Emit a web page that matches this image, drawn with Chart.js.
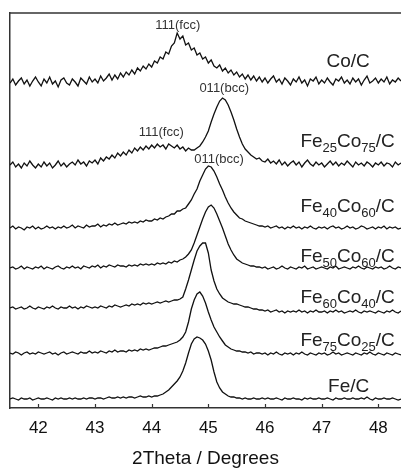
<!DOCTYPE html>
<html>
<head>
<meta charset="utf-8">
<script src="https://cdn.jsdelivr.net/npm/chart.js@4.4.1/dist/chart.umd.min.js"></script>
<style>
  html, body { margin: 0; padding: 0; background: #fff; }
  #wrap { position: relative; width: 401px; height: 468px; }
</style>
</head>
<body>
<div id="wrap"><canvas id="xrd"></canvas></div>
<script>
// 2Theta grid (degrees)
const twoTheta = [
  41.5,41.55,41.6,41.65,41.7,41.75,41.8,41.85,41.9,41.95,
  42,42.05,42.1,42.15,42.2,42.25,42.3,42.35,42.4,42.45,
  42.5,42.55,42.6,42.65,42.7,42.75,42.8,42.85,42.9,42.95,
  43,43.05,43.1,43.15,43.2,43.25,43.3,43.35,43.4,43.45,
  43.5,43.55,43.6,43.65,43.7,43.75,43.8,43.85,43.9,43.95,
  44,44.05,44.1,44.15,44.2,44.25,44.3,44.35,44.4,44.45,
  44.5,44.55,44.6,44.65,44.7,44.75,44.8,44.85,44.9,44.95,
  45,45.05,45.1,45.15,45.2,45.25,45.3,45.35,45.4,45.45,
  45.5,45.55,45.6,45.65,45.7,45.75,45.8,45.85,45.9,45.95,
  46,46.05,46.1,46.15,46.2,46.25,46.3,46.35,46.4,46.45,
  46.5,46.55,46.6,46.65,46.7,46.75,46.8,46.85,46.9,46.95,
  47,47.05,47.1,47.15,47.2,47.25,47.3,47.35,47.4,47.45,
  47.5,47.55,47.6,47.65,47.7,47.75,47.8,47.85,47.9,47.95,
  48,48.05,48.1,48.15,48.2,48.25,48.3,48.35,48.4
];

// stacked intensities (a.u., offset per sample)
const coC = [
  325,329,323,327,330,324,328,322,327,331,
  326,322,329,325,331,324,327,321,328,330,
  325,323,329,326,322,330,327,324,331,326,
  329,325,332,327,330,334,328,333,329,335,
  331,336,333,338,334,340,337,342,339,344,
  341,347,345,351,349,356,354,362,365,375,
  369,372,363,365,358,360,353,355,349,351,
  345,348,342,340,343,337,340,335,338,333,
  336,331,334,329,333,328,332,327,331,326,
  330,325,329,332,326,329,324,330,327,323,
  329,326,331,325,328,322,329,327,331,324,
  328,325,330,326,323,329,327,331,325,328,
  324,330,326,329,323,328,332,325,327,330,
  325,329,326,331,324,328,326,330,327
];
const fe25co75 = [
  243,246,241,244,240,245,242,247,243,240,
  244,241,246,242,245,240,243,247,242,245,
  241,244,246,243,248,244,246,242,247,245,
  248,244,250,247,251,249,253,250,255,252,
  256,253,258,255,260,257,261,258,262,259,
  263,260,264,261,263,259,264,262,260,263,
  259,261,257,260,258,258,260,262,266,271,
  277,286,294,301,307,310,308,303,296,288,
  279,271,264,259,256,253,251,249,250,247,
  246,249,245,247,244,248,243,246,242,245,
  247,243,246,241,245,248,244,242,246,243,
  245,241,244,247,243,246,242,245,243,247,
  244,241,246,243,245,242,246,244,241,245,
  243,246,242,245,244,241,246,243,245
];
const fe40co60 = [
  180,182,179,181,180,178,181,180,182,179,
  181,179,180,182,180,181,179,181,180,182,
  180,181,183,180,182,181,180,183,181,182,
  182,184,181,183,182,184,183,185,183,184,
  185,184,186,185,186,185,187,186,188,187,
  187,189,188,190,189,191,192,194,194,197,
  197,199,200,204,208,214,219,227,233,239,
  242,241,237,231,224,218,211,205,200,196,
  193,190,189,187,186,185,184,183,182,182,
  181,182,180,181,182,180,181,179,181,180,
  182,180,181,179,181,180,182,180,179,181,
  180,181,179,181,182,180,181,179,180,182,
  180,181,179,180,182,181,179,180,181,179,
  181,180,182,179,181,180,181,179,180
];
const fe50co50 = [
  140,141,139,140,142,139,141,140,139,141,
  140,142,139,141,140,139,141,142,140,139,
  141,140,142,140,141,139,142,141,140,142,
  141,143,140,142,141,143,142,141,143,142,
  142,141,143,142,143,142,144,143,144,143,
  144,143,145,144,145,144,146,145,147,146,
  148,149,151,154,158,165,173,181,189,196,
  201,203,200,194,187,180,172,164,158,153,
  149,147,145,144,143,142,142,141,141,140,
  141,139,140,141,139,140,142,140,139,141,
  140,139,141,140,142,139,140,141,139,140,
  141,140,139,141,140,142,139,140,141,140,
  139,141,140,142,140,139,141,140,139,141,
  140,141,139,140,142,140,139,141,140
];
const fe60co40 = [
  100,101,99,100,101,99,100,102,100,99,
  101,100,99,101,100,102,100,99,101,100,
  100,102,100,101,99,101,100,102,101,100,
  101,100,102,101,100,102,101,103,102,101,
  102,103,102,104,103,104,103,105,104,105,
  104,105,106,105,106,107,106,107,108,108,
  109,111,119,128,138,148,157,162,165,165,
  155,138,127,119,114,110,108,106,105,104,
  104,103,102,101,101,100,99,99,98,98,
  97,98,96,97,98,96,97,95,97,96,
  97,96,98,96,97,95,97,96,98,96,
  96,97,95,97,96,98,96,97,95,96,
  97,96,98,96,95,97,96,97,96,95,
  97,96,95,97,96,98,96,95,97
];
const fe75co25 = [
  55,54,56,55,53,55,56,54,55,54,
  56,55,54,55,56,54,55,53,55,56,
  54,55,56,55,54,56,55,55,57,55,
  56,55,57,56,55,57,56,58,56,57,
  57,56,58,57,58,57,59,58,59,58,
  59,60,60,61,62,62,63,64,65,66,
  68,71,76,86,99,108,114,116,112,105,
  96,88,81,76,71,67,63,61,59,58,
  57,57,56,56,55,56,54,55,55,54,
  55,53,55,54,56,54,53,55,54,55,
  53,55,54,56,54,53,55,54,53,55,
  54,55,53,54,56,54,55,53,54,55,
  54,53,55,54,53,55,54,56,54,53,
  55,54,53,55,54,53,55,54,53
];
const feC = [
  9,10,9,8,10,9,9,10,8,9,
  10,9,9,10,9,8,10,9,10,9,
  9,10,9,10,9,9,10,9,10,10,
  9,10,10,9,10,11,10,10,11,10,
  11,10,11,11,10,11,12,11,11,12,
  11,12,12,13,14,16,18,21,24,27,
  31,37,45,55,64,69,71,70,68,64,
  57,48,36,26,20,16,14,12,11,11,
  10,10,9,10,9,9,10,9,9,10,
  9,10,9,9,10,9,8,10,9,9,
  10,9,9,8,10,9,10,9,9,10,
  9,9,10,9,8,10,9,9,10,9,
  9,10,9,9,10,9,11,9,8,10,
  9,9,10,9,9,10,9,8,9
];

const seriesData = [coC, fe25co75, fe40co60, fe50co50, fe60co40, fe75co25, feC];

// sample names, split into [text, isSubscript] pieces
const sampleNames = [
  [["Co/C", 0]],
  [["Fe", 0], ["25", 1], ["Co", 0], ["75", 1], ["/C", 0]],
  [["Fe", 0], ["40", 1], ["Co", 0], ["60", 1], ["/C", 0]],
  [["Fe", 0], ["50", 1], ["Co", 0], ["60", 1], ["/C", 0]],
  [["Fe", 0], ["60", 1], ["Co", 0], ["40", 1], ["/C", 0]],
  [["Fe", 0], ["75", 1], ["Co", 0], ["25", 1], ["/C", 0]],
  [["Fe/C", 0]]
];
// right end (2Theta) and baseline (a.u.) of each name
const nameX = [47.85, 48.29, 48.29, 48.29, 48.29, 48.29, 47.84];
const nameY = [341, 261.5, 196, 146, 105, 62.5, 16];

// reflection labels
const peakText = ["111(fcc)", "011(bcc)", "111(fcc)", "011(bcc)"];
const peakX = [44.46, 45.28, 44.17, 45.19];
const peakY = [383, 320, 276, 248.5];

const xTicks = [42, 43, 44, 45, 46, 47, 48];

const FONT = "'Liberation Sans', Arial, Helvetica, sans-serif";
const axisColor = "#333";

const annotate = {
  id: "annotate",
  afterDraw(chart) {
    const { ctx, chartArea, scales } = chart;
    const x = scales.x, y = scales.y;
    ctx.save();

    // top frame line
    ctx.strokeStyle = axisColor;
    ctx.lineWidth = 1.5;
    ctx.beginPath();
    ctx.moveTo(chartArea.left, chartArea.top);
    ctx.lineTo(chartArea.right, chartArea.top);
    ctx.stroke();

    // inward tick marks
    ctx.lineWidth = 1.2;
    ctx.beginPath();
    xTicks.forEach((v) => {
      const px = Math.round(x.getPixelForValue(v)) + 0.5;
      ctx.moveTo(px, chartArea.bottom);
      ctx.lineTo(px, chartArea.bottom - 4);
    });
    ctx.stroke();

    // sample names
    ctx.fillStyle = "#222";
    ctx.textBaseline = "alphabetic";
    ctx.textAlign = "left";
    sampleNames.forEach((parts, i) => {
      let total = 0;
      parts.forEach(([t, sub]) => {
        ctx.font = (sub ? "13px " : "19px ") + FONT;
        total += ctx.measureText(t).width;
      });
      let px = x.getPixelForValue(nameX[i]) - total;
      const py = y.getPixelForValue(nameY[i]);
      parts.forEach(([t, sub]) => {
        ctx.font = (sub ? "13px " : "19px ") + FONT;
        ctx.fillText(t, px, sub ? py + 5 : py);
        px += ctx.measureText(t).width;
      });
    });

    // reflection labels
    ctx.font = "13px " + FONT;
    ctx.fillStyle = "#333";
    ctx.textAlign = "center";
    ctx.textBaseline = "middle";
    peakText.forEach((t, i) => {
      ctx.fillText(t, x.getPixelForValue(peakX[i]), y.getPixelForValue(peakY[i]));
    });

    ctx.restore();
  }
};

new Chart(document.getElementById("xrd"), {
  type: "line",
  data: {
    datasets: seriesData.map((vals) => ({
      data: vals.map((v, i) => ({ x: twoTheta[i], y: v })),
      borderColor: "#111",
      borderWidth: 1.3,
      pointRadius: 0,
      tension: 0,
      fill: false
    }))
  },
  options: {
    responsive: true,
    maintainAspectRatio: false,
    animation: false,
    layout: { padding: { left: 10, top: 13, right: 0, bottom: 0 } },
    plugins: { legend: { display: false }, tooltip: { enabled: false } },
    scales: {
      x: {
        type: "linear",
        min: 41.5,
        max: 48.4,
        afterBuildTicks: (s) => { s.ticks = xTicks.map((v) => ({ value: v })); },
        afterFit: (s) => { s.height = 60; },
        grid: { display: false },
        border: { display: true, color: axisColor, width: 1.5 },
        ticks: {
          color: "#111",
          padding: 2,
          maxRotation: 0,
          font: { family: FONT, size: 17 }
        },
        title: {
          display: true,
          text: "2Theta / Degrees",
          color: "#111",
          padding: 0,
          font: { family: FONT, size: 19, lineHeight: 1 }
        }
      },
      y: {
        min: 0,
        max: 395,
        afterFit: (s) => { s.width = 0; },
        grid: { display: false },
        border: { display: true, color: axisColor, width: 1.5 },
        ticks: { display: false }
      }
    }
  },
  plugins: [annotate]
});
</script>
</body>
</html>
